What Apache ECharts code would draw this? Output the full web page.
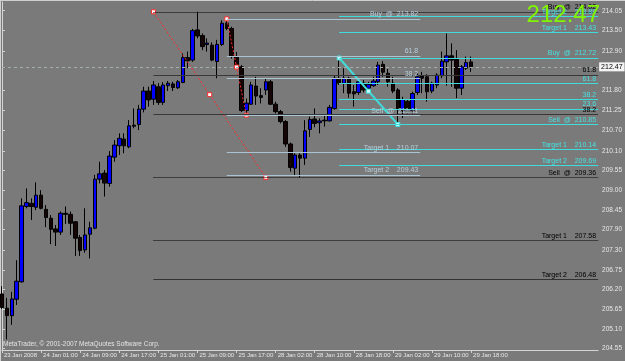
<!DOCTYPE html>
<html><head><meta charset="utf-8">
<script src="https://cdn.jsdelivr.net/npm/echarts@6/dist/echarts.min.js"></script>
<style>html,body{margin:0;padding:0;background:#7a7a7a}#c{width:625px;height:361px}</style>
</head><body><div id="c"></div>
<script>
// ---- data ----
const xTickLabels = ['23 Jan 2008','24 Jan 01:00','24 Jan 09:00','24 Jan 17:00','25 Jan 01:00','25 Jan 09:00','25 Jan 17:00','28 Jan 02:00','28 Jan 10:00','28 Jan 18:00','29 Jan 02:00','29 Jan 10:00','29 Jan 18:00'];
const slotCount = 123;
const yTickLabels = ['204.55','205.10','205.65','206.20','206.75','207.30','207.90','208.45','209.00','209.55','210.10','210.70','211.25','211.80','212.90','213.50','214.05'];

const opens  = [206.08,205.68,205.47,205.93,206.42,208.54,208.63,208.52,208.86,208.46,208.21,207.91,207.82,208.35,208.32,208.11,207.67,207.32,207.76,207.93,209.31,209.48,209.19,209.93,210.25,210.44,210.22,210.83,210.85,211.28,211.79,211.56,211.91,211.47,211.94,211.99,211.88,212.03,212.73,212.66,213.51,213.35,213.10,213.08,212.62,213.10,213.70,213.55,212.76,212.47,211.24,211.42,211.93,211.66,211.82,212.05,211.42,211.21,210.93,210.30,209.62,209.99,209.90,210.71,211.00,210.90,210.97,210.95,211.30,212.15,212.00,212.15,211.77,211.75,212.01,211.87,211.94,212.05,212.54,212.29,212.01,211.82,211.25,211.50,211.25,211.75,212.21,212.19,211.79,211.96,212.22,212.61,212.78,212.68,211.87,212.43,212.61];
const highs  = [206.30,205.97,206.14,207.03,208.77,209.05,208.77,209.22,209.00,208.58,208.30,208.02,208.40,208.54,208.40,208.13,207.74,208.49,208.11,209.43,209.80,209.57,210.10,210.41,210.60,210.60,210.97,211.30,211.40,211.91,211.91,212.07,212.01,212.04,212.07,212.05,212.10,212.85,212.90,213.54,214.02,213.41,213.27,213.16,213.23,213.78,213.82,213.60,212.89,212.52,211.58,212.05,212.19,211.87,212.15,212.10,211.49,211.26,210.97,210.34,210.04,210.04,210.97,211.07,211.30,211.02,211.12,211.40,212.24,212.72,212.43,212.19,211.96,212.10,212.10,212.05,212.19,212.61,212.63,212.41,212.19,211.87,211.63,211.56,211.77,212.29,212.33,212.26,212.05,212.29,212.90,213.41,213.13,212.94,212.52,212.76,212.76];
const lows   = [205.66,204.80,205.21,205.77,206.40,208.49,208.16,208.44,208.46,207.96,207.48,207.43,207.74,208.05,207.74,207.15,207.15,207.24,207.08,207.90,209.19,208.82,209.10,209.80,209.99,210.04,210.18,210.74,210.69,211.19,211.35,211.40,211.40,211.40,211.79,211.79,211.85,212.01,212.43,212.61,213.27,212.94,212.90,212.63,212.15,213.06,213.50,212.70,212.42,211.20,211.11,211.40,211.40,211.44,211.68,211.40,211.16,210.88,210.22,209.52,209.43,209.36,209.71,210.50,210.77,210.60,210.79,210.93,211.26,211.96,211.73,211.60,211.35,211.68,211.75,211.73,211.91,211.96,212.19,211.91,211.73,210.88,211.03,211.16,211.16,211.68,211.73,211.49,211.73,211.87,212.15,211.94,211.91,211.59,211.68,212.38,212.33];
const closes = [205.70,205.47,205.94,206.44,208.56,208.65,208.54,208.86,208.49,208.23,207.90,207.82,208.35,208.32,208.07,207.65,207.30,207.74,207.94,209.31,209.46,209.20,209.96,210.27,210.46,210.25,210.81,210.80,211.28,211.79,211.54,211.96,211.47,211.96,212.01,211.89,212.05,212.73,212.64,213.49,213.34,213.04,213.14,212.66,213.10,213.70,213.55,212.78,212.47,211.24,211.45,211.96,211.65,211.61,212.05,211.42,211.21,210.93,210.30,209.64,209.99,209.90,210.67,210.99,210.88,210.95,210.95,211.33,212.15,212.01,212.15,211.73,211.71,212.05,211.82,211.98,212.07,212.52,212.32,212.05,211.79,211.28,211.55,211.30,211.72,212.19,212.15,211.77,212.01,212.24,212.63,212.78,212.66,211.87,212.47,212.59,212.47];

// Fibonacci level sets: [start bar, end bar], prices and texts
const levelsA = [214.02, 212.24, 211.14, 209.36, 207.58, 206.48];
const textsA  = ['Buy  @  214.02', '61.8', '38.2', 'Sell  @  209.36', 'Target 1    207.58', 'Target 2    206.48'];
const spanA   = [31, 122];
const levelsB = [213.82, 212.78, 212.14, 211.11, 210.07, 209.43];
const textsB  = ['Buy  @  213.82', '61.8', '38.2', 'Sell  @  211.11', 'Target 1    210.07', 'Target 2    209.43'];
const spanB   = [46, 85.6];
const levelsC = [213.88, 213.43, 212.72, 212.01, 211.56, 211.29, 210.85, 210.14, 209.69];
const textsC  = ['Target 2    213.88', 'Target 1    213.43', 'Buy  @  212.72', '61.8', '38.2', '23.6', 'Sell  @  210.85', 'Target 1    210.14', 'Target 2    209.69'];
const spanC   = [69, 122];

// swing lines (bar index, price)
const redSwing1 = [[31, 214.02], [42.5, 211.69], [54, 209.36]];
const redSwing2 = [[46, 213.82], [48, 212.465], [50, 211.11]];
const cyanSwing = [[69, 212.72], [75, 211.785], [81, 210.85]];

const copyright = 'MetaTrader, © 2001-2007 MetaQuotes Software Corp.';

// ---- styles ----
const FONT = "'Liberation Sans Narrow','Liberation Sans',Arial,sans-serif";
const styleA = [
  {type:'dotted', color:'#000'}, {type:'solid', color:'#383838'}, {type:'solid', color:'#383838'},
  {type:'dotted', color:'#000'}, {type:'dotted', color:'#000'}, {type:'solid', color:'#333'}
];
const colB = '#a9c4d2';
const colC = '#3fdcdc';

function levelLines(levels, texts, span, lineStyleFn, textColor) {
  return levels.map((p, i) => [
    { coord: [span[0], p], lineStyle: Object.assign({width: 1}, lineStyleFn(i)),
      label: { show: true, position: 'insideEndTop', formatter: texts[i], color: textColor,
               fontFamily: FONT, fontSize: 7, distance: [2, 1] } },
    { coord: [span[1], p] }
  ]);
}
function carrier(name, lines) {
  return { name, type: 'line', xAxisIndex: 1, yAxisIndex: 0, data: [], silent: true,
    markLine: { symbol: ['none', 'none'], silent: true, animation: false, data: lines } };
}
function swing(data, color, type, width, fill) {
  return { type: 'line', xAxisIndex: 1, yAxisIndex: 0, data, silent: true,
    symbol: 'rect', symbolSize: 4, showSymbol: true,
    lineStyle: { color, type, width },
    itemStyle: { color: fill, borderColor: color, borderWidth: 1 } };
}

const lastClose = closes[closes.length - 1];
const yTicks = yTickLabels.map(Number);
const chart = echarts.init(document.getElementById('c'), null, {renderer: 'canvas'});
chart.setOption({
  animation: false,
  backgroundColor: '#7a7a7a',
  title: [
    { text: lastClose.toFixed(2), right: 25, top: 3, padding: 0,
      textStyle: { color: '#80f400', fontSize: 24, fontWeight: 'normal', fontFamily: FONT } },
    { text: copyright, left: 3, top: 341, padding: 0,
      textStyle: { color: '#e4e4e4', fontSize: 6.5, fontWeight: 'normal', fontFamily: FONT } }
  ],
  grid: { left: 2, right: 23, top: 2, bottom: 11, show: false },
  xAxis: [
    { type: 'category', boundaryGap: false, data: Array.from({length: slotCount}, (_, i) => String(i)),
      axisLine: { lineStyle: { color: '#d4d4d4', width: 1 } },
      axisTick: { show: true, length: 3, lineStyle: { color: '#d4d4d4' },
                  interval: (i) => i % 8 === 0 && i / 8 < xTickLabels.length },
      axisLabel: { interval: (i) => i % 8 === 0 && i / 8 < xTickLabels.length,
                   formatter: (v, i) => xTickLabels[Math.round(i / 8)] || '',
                   align: 'left', margin: 2, padding: [0, 0, 0, 2],
                   color: '#e8e8e8', fontSize: 6, fontFamily: FONT },
      splitLine: { show: false } },
    { type: 'value', min: 0, max: slotCount - 1, show: false }
  ],
  yAxis: [{
    type: 'value', position: 'right', min: 204.503, max: 214.295,
    axisLine: { show: true, lineStyle: { color: '#d4d4d4' } },
    axisTick: { show: true, length: 3, customValues: yTicks, lineStyle: { color: '#d4d4d4' } },
    axisLabel: { customValues: yTicks, margin: 4, color: '#e8e8e8', fontSize: 6.5, fontFamily: FONT,
                 formatter: (v) => { const k = yTicks.findIndex(t => Math.abs(t - v) < 1e-6); return k >= 0 ? yTickLabels[k] : ''; } },
    splitLine: { show: false }
  }],
  series: [
    carrier('A', levelLines(levelsA, textsA, spanA, (i) => styleA[i], '#000')),
    carrier('B', levelLines(levelsB, textsB, spanB, () => ({type: 'solid', color: colB}), '#b8d0dc')),
    carrier('C', levelLines(levelsC, textsC, spanC, () => ({type: 'solid', color: colC}), '#46e2e2')),
    {
      type: 'candlestick', xAxisIndex: 0, yAxisIndex: 0, barWidth: 4,
      data: opens.map((o, i) => [o, closes[i], lows[i], highs[i]]),
      itemStyle: { color: '#0000ff', color0: '#140404', borderColor: '#000', borderColor0: '#000', borderWidth: 1 },
      markLine: {
        symbol: ['none', 'none'], silent: true, animation: false,
        data: [{ yAxis: lastClose }],
        lineStyle: { color: '#a4b0b0', type: [3, 3], width: 1 },
        label: { show: true, position: 'end', distance: 1, formatter: lastClose.toFixed(2),
                 backgroundColor: '#f4f4f4', color: '#000', padding: [1, 2, 1, 2], fontSize: 7, fontFamily: FONT }
      }
    },
    swing(redSwing1, '#ff2a2a', [2, 2], 1, '#ffffff'),
    swing(redSwing2, '#ff2a2a', [2, 2], 1, '#ffffff'),
    swing(cyanSwing, colC, 'solid', 2, '#c8ffff')
  ],
  graphic: [
    { type: 'line', shape: { x1: 0, y1: 0.5, x2: 625, y2: 0.5 }, style: { stroke: '#d0d0d0', lineWidth: 1 } },
    { type: 'line', shape: { x1: 0.5, y1: 0, x2: 0.5, y2: 361 }, style: { stroke: '#d0d0d0', lineWidth: 1 } }
  ]
});
</script></body></html>
